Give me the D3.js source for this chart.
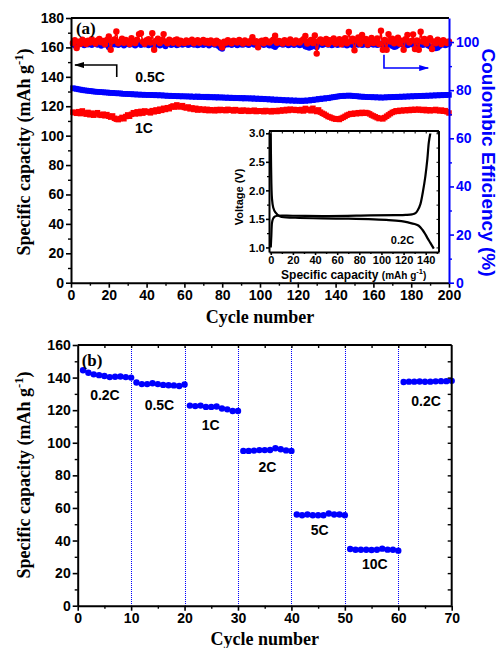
<!DOCTYPE html>
<html>
<head>
<meta charset="utf-8">
<script src="https://cdn.jsdelivr.net/npm/d3@7"></script>
<style>
  html, body { margin: 0; padding: 0; background: #fff; }
  svg { display: block; }
  .tick text { font-family: "Liberation Sans", Arial, sans-serif; font-weight: bold; }
</style>
</head>
<body>
<div id="chart"></div>
<script>
// ---- data: panel (a), cycling at 0.5C and 1C ----
const capHalfC = [
  132.3,132.0,131.8,131.5,131.3,131.0,130.8,130.7,130.5,130.4,130.2,130.0,129.9,129.8,129.7,129.6,129.5,129.3,129.4,129.2,
  129.0,129.1,128.9,128.8,128.7,128.8,128.5,128.4,128.5,128.3,128.2,128.3,128.0,128.1,127.9,128.0,127.8,127.9,127.7,127.8,
  127.6,127.8,127.5,127.7,127.4,127.6,127.3,127.5,127.2,127.3,127.0,127.2,126.9,127.1,126.8,127.0,126.7,126.9,126.6,126.8,
  126.7,126.5,126.8,126.4,126.6,126.3,126.7,126.2,126.5,126.4,126.1,126.5,126.0,126.3,126.2,125.9,126.3,125.8,126.1,126.0,
  125.7,126.0,125.6,125.9,125.5,125.8,125.4,125.7,125.6,125.3,125.7,125.2,125.5,125.4,125.1,125.5,125.0,125.3,124.9,125.2,
  124.8,125.1,124.7,124.9,124.5,124.8,124.3,124.6,124.2,124.5,124.1,124.3,123.9,124.2,123.8,124.1,123.7,124.0,123.6,123.9,
  123.7,123.5,123.9,123.6,124.0,123.8,124.3,124.1,124.6,124.5,125.0,124.8,125.3,125.1,125.6,125.4,125.8,126.0,126.2,126.4,
  126.6,126.8,127.0,126.9,127.2,127.1,127.3,127.2,127.0,126.8,126.9,126.7,126.5,126.6,126.3,126.4,126.2,126.1,126.3,126.0,
  126.2,125.9,126.1,125.8,126.0,125.9,126.2,126.0,126.3,126.1,126.4,126.2,126.5,126.3,126.6,126.4,126.7,126.5,126.8,126.6,
  126.9,126.7,127.0,126.8,127.1,126.9,127.2,127.0,127.3,127.1,127.4,127.2,127.5,127.3,127.6,127.4,127.7,127.5,127.8,127.7
];
const capOneC = [
  116.0,115.6,115.2,116.3,115.0,116.8,115.4,114.6,115.8,114.2,115.3,113.9,114.8,115.6,114.1,113.8,114.6,113.5,114.3,113.2,
  112.6,113.4,111.8,111.2,110.9,111.6,112.4,111.5,113.0,114.1,113.2,114.5,115.6,114.8,116.2,115.0,116.5,115.3,116.8,116.0,
  116.4,115.5,117.0,116.2,117.5,116.6,118.0,117.2,118.6,117.8,119.0,118.3,119.6,120.2,119.4,120.9,120.1,119.5,120.4,119.2,
  118.8,119.5,118.2,118.9,117.8,118.6,117.4,118.2,117.5,118.0,117.2,117.9,117.0,117.6,117.3,116.9,117.7,117.1,117.8,117.2,
  117.6,117.0,117.9,117.3,117.5,116.8,117.7,117.2,117.0,116.6,117.4,116.8,117.2,116.5,117.0,116.7,117.3,116.4,116.9,116.6,
  116.9,116.3,117.1,116.5,116.8,116.2,117.0,116.6,116.4,117.2,116.7,117.5,116.9,117.8,117.1,118.0,117.4,117.8,117.2,117.6,
  117.0,117.8,116.8,118.5,117.4,117.9,116.9,118.6,117.2,116.4,117.5,116.0,115.2,114.6,113.8,113.0,112.6,112.0,111.6,111.2,
  111.5,111.0,111.8,112.4,113.1,113.9,114.4,115.0,114.6,115.3,114.9,115.6,115.1,115.8,115.2,115.7,115.4,114.8,114.0,113.4,
  112.8,112.2,111.6,111.9,111.4,112.3,113.2,114.1,115.0,115.8,116.3,116.9,116.5,117.2,116.8,117.4,117.0,117.6,117.1,117.8,
  117.3,117.9,117.4,118.0,117.5,117.2,117.8,117.0,117.6,116.9,117.5,117.1,117.8,117.2,116.8,117.4,116.6,117.0,116.2,115.4
];
const ceHalfC = [
  99.2,98.6,99.5,98.9,99.8,99.1,98.7,99.4,99.0,99.6,98.8,99.3,99.7,98.9,99.2,98.5,99.6,99.0,99.4,97.8,
  98.7,99.3,99.0,99.6,98.8,99.2,99.5,98.6,99.1,99.4,98.9,99.7,99.0,98.6,99.3,99.5,98.8,99.2,99.0,99.4,
  98.7,99.1,99.5,98.2,99.0,99.3,98.6,99.4,98.9,98.3,99.2,99.6,98.8,99.1,99.4,98.7,99.0,99.5,98.9,99.2,
  99.4,98.8,99.1,99.6,98.9,99.3,98.7,99.0,99.5,98.8,99.2,99.4,98.6,99.1,99.3,98.9,99.0,98.4,97.6,97.2,
  98.6,99.2,99.0,99.5,98.8,99.3,99.1,98.7,99.4,99.0,98.9,99.6,99.1,98.8,99.3,99.5,98.9,99.2,98.7,99.1,
  99.4,98.8,99.2,99.0,98.6,99.3,98.4,97.9,98.8,99.2,99.5,98.9,99.1,99.4,98.7,99.0,99.3,98.8,99.2,99.0,
  98.7,99.1,98.9,98.2,98.0,97.6,97.9,98.3,98.7,97.8,99.0,99.3,98.8,99.1,99.4,98.9,99.2,98.7,99.0,99.3,
  98.8,99.1,99.4,98.9,99.2,98.6,99.0,99.3,98.7,99.1,99.4,98.9,99.2,98.8,99.0,99.5,98.7,99.1,99.3,98.9,
  99.2,98.8,99.0,99.4,98.7,99.1,98.5,99.2,98.9,98.4,97.9,98.2,98.8,99.1,99.3,98.9,99.2,98.7,99.0,99.3,
  98.9,99.2,98.7,99.1,99.4,98.8,99.0,99.3,98.6,98.2,97.8,98.0,97.4,97.6,98.4,98.9,99.1,98.7,99.0,99.2
];
const ceOneC = [
  99.6,100.8,97.5,100.2,99.3,101.0,100.4,99.2,100.6,99.8,101.2,100.1,99.4,100.7,101.3,99.9,100.5,99.1,100.9,102.3,
  96.8,100.4,101.1,104.4,99.5,100.2,101.4,99.7,100.9,100.3,99.2,101.6,100.4,99.6,101.0,103.3,103.7,100.1,99.3,100.8,
  101.2,99.8,103.7,96.8,100.5,101.4,99.6,100.9,103.3,100.2,99.5,101.0,100.3,99.7,100.8,101.1,99.4,100.6,100.0,99.6,
  100.7,99.9,100.4,101.0,99.5,100.2,100.8,99.7,100.3,100.9,99.8,100.5,99.6,100.7,100.1,99.4,100.6,100.0,99.3,97.8,
  100.2,99.7,100.8,100.1,99.5,100.6,100.3,99.8,100.9,100.0,99.4,100.7,100.2,99.6,100.5,102.0,99.9,100.4,97.8,100.1,
  100.6,99.5,100.9,100.2,99.8,100.4,101.0,102.6,99.7,100.5,100.1,99.4,100.8,100.3,99.6,101.1,100.0,99.5,100.7,100.2,
  99.8,100.6,101.2,102.5,99.4,100.3,100.9,99.6,102.7,95.2,100.4,101.1,99.7,100.5,101.3,99.2,100.8,100.1,101.5,99.4,
  100.6,101.2,99.1,100.9,101.6,99.5,104.2,100.3,101.4,96.6,100.7,101.9,99.3,103.0,100.5,101.3,99.0,100.8,101.7,99.6,
  100.4,101.5,99.2,104.7,96.8,100.9,96.8,103.3,100.2,101.4,99.5,100.8,101.8,99.3,100.6,96.8,101.2,103.0,99.8,100.5,
  103.2,97.1,100.7,96.8,104.3,100.2,101.3,99.4,100.9,101.6,97.1,100.3,99.5,101.0,100.4,99.2,100.8,100.1,99.6,100.3
];

// ---- inset: 0.2C voltage profile ----
const chargeCap  = [0, 0.5, 1.1, 2.0, 3.5, 6, 20, 52, 90, 112.6, 122, 127.7, 130.7, 133, 135.2, 137.5, 139.7, 141.5, 142.8, 144.2];
const chargeV    = [1.0, 1.2, 1.43, 1.5, 1.54, 1.555, 1.555, 1.55, 1.56, 1.565, 1.57, 1.58, 1.6, 1.66, 1.76, 1.98, 2.25, 2.55, 2.84, 3.0];
const dischCap   = [0, 0.3, 1.1, 2.2, 4, 8.6, 22, 67, 106.6, 118, 124.7, 130, 133.7, 137, 139.7, 142, 144.2, 147.3];
const dischV     = [3.0, 2.4, 1.85, 1.7, 1.62, 1.54, 1.52, 1.505, 1.48, 1.46, 1.435, 1.41, 1.38, 1.31, 1.23, 1.15, 1.08, 0.98];

// ---- panel (b): rate capability ----
const rateNames = ["0.2C", "0.5C", "1C", "2C", "5C", "10C", "0.2C"];
const rateCaps = [
  [144.5, 143.0, 142.0, 141.5, 141.0, 140.3, 140.5, 140.7, 140.3, 140.0],
  [137.0, 136.0, 136.0, 136.5, 136.0, 135.5, 135.3, 135.2, 134.8, 135.8],
  [122.8, 122.5, 122.8, 122.0, 122.0, 122.3, 121.0, 120.5, 119.5, 119.5],
  [95.0, 95.0, 95.2, 95.5, 95.5, 95.6, 96.6, 96.0, 95.3, 95.0],
  [56.0, 55.5, 56.0, 55.5, 55.5, 55.5, 56.6, 56.0, 56.0, 55.5],
  [34.8, 34.3, 34.3, 34.3, 34.2, 34.3, 35.0, 34.4, 34.3, 33.8],
  [137.3, 137.5, 137.5, 137.6, 137.4, 137.5, 137.7, 137.8, 137.8, 138.0]
];
const rateBoundaries = [10, 20, 30, 40, 50, 60];

const width = 498;
const height = 648;
const RED = "#ff0000";
const BLUE = "#0000ff";
const SANS = "'Liberation Sans', Arial, sans-serif";
const SERIF = "'Liberation Serif', 'Times New Roman', serif";

const svg = d3.select("#chart")
  .append("svg")
  .attr("width", width)
  .attr("height", height)
  .attr("viewBox", [0, 0, width, height]);

const defs = svg.append("defs");
[["arrowBlack", "#000"], ["arrowBlue", BLUE]].forEach(([id, c]) => {
  defs.append("marker")
    .attr("id", id)
    .attr("viewBox", "0 0 10 6")
    .attr("refX", 9).attr("refY", 3)
    .attr("markerWidth", 10).attr("markerHeight", 6)
    .attr("markerUnits", "userSpaceOnUse")
    .attr("orient", "auto")
    .append("path")
    .attr("d", "M0,0 L10,3 L0,6 Z")
    .attr("fill", c);
});

// draw an axis with major labelled ticks and minor unlabelled ticks
function drawAxis(g, maker, scale, major, minor, opts) {
  const o = Object.assign({ size: 5, minorSize: 3, color: "#000", font: 14, fmt: d => d, width: 2, pad: 2 }, opts);
  if (minor) {
    g.append("g").call(maker(scale).tickValues(minor).tickSize(o.minorSize).tickSizeOuter(0).tickFormat(""))
      .call(a => a.select(".domain").remove())
      .call(a => a.selectAll("line").attr("stroke", o.color).attr("stroke-width", 1.4));
  }
  const a = g.append("g").call(maker(scale).tickValues(major).tickSize(o.size).tickSizeOuter(0).tickPadding(o.pad).tickFormat(o.fmt));
  a.select(".domain").attr("stroke", o.color).attr("stroke-width", o.width);
  a.selectAll("line").attr("stroke", o.color).attr("stroke-width", 1.6);
  a.selectAll("text").attr("fill", o.color).style("font-size", o.font + "px");
  return a;
}

function drawSeries(g, xs, ys, x, y, color, shape, s) {
  const pts = xs.map((c, i) => [x(c), y(ys[i])]);
  g.append("path")
    .attr("d", d3.line()(pts))
    .attr("fill", "none")
    .attr("stroke", color)
    .attr("stroke-width", 1.6);
  if (shape === "square") {
    g.selectAll(null).data(pts).join("rect")
      .attr("x", p => p[0] - s / 2).attr("y", p => p[1] - s / 2)
      .attr("width", s).attr("height", s)
      .attr("fill", color);
  } else {
    g.selectAll(null).data(pts).join("circle")
      .attr("cx", p => p[0]).attr("cy", p => p[1])
      .attr("r", s).attr("fill", color);
  }
}

function label(g, txt, px, py, size, anchor, family, color) {
  return g.append("text")
    .attr("x", px).attr("y", py)
    .attr("text-anchor", anchor || "middle")
    .attr("font-family", family || SANS)
    .attr("font-weight", "bold")
    .attr("font-size", size)
    .attr("fill", color || "#000")
    .text(txt);
}

function yTitle(g, px, py, size) {
  const t = g.append("text")
    .attr("transform", `translate(${px},${py}) rotate(-90)`)
    .attr("text-anchor", "middle")
    .attr("font-family", SERIF)
    .attr("font-weight", "bold")
    .attr("font-size", size);
  t.append("tspan").text("Specific capacity (mAh g");
  t.append("tspan").attr("dy", -7).attr("font-size", size * 0.7).text("-1");
  t.append("tspan").attr("dy", 7).text(")");
}

// ================= panel (a) =================
const cycles = d3.range(1, capHalfC.length + 1);
const xa = d3.scaleLinear().domain([0, 200]).range([71, 449]);
const yaL = d3.scaleLinear().domain([0, 180]).range([282.7, 18]);
const yaR = d3.scaleLinear().domain([0, 110]).range([282.7, 18]);

const pa = svg.append("g");

drawSeries(pa, cycles, ceHalfC, xa, yaR, BLUE, "circle", 3);
drawSeries(pa, cycles, ceOneC, xa, yaR, RED, "circle", 3.2);
drawSeries(pa, cycles, capHalfC, xa, yaL, BLUE, "square", 5.5);
drawSeries(pa, cycles, capOneC, xa, yaL, RED, "square", 5.5);

// frame top
pa.append("line").attr("x1", 71).attr("x2", 449).attr("y1", 18).attr("y2", 18)
  .attr("stroke", "#000").attr("stroke-width", 2);

drawAxis(pa.append("g").attr("transform", "translate(0,282.7)"), d3.axisBottom, xa,
  d3.range(0, 201, 20), d3.range(10, 200, 20), {});
drawAxis(pa.append("g").attr("transform", "translate(71,0)"), d3.axisLeft, yaL,
  d3.range(0, 181, 20), d3.range(10, 180, 20), {});
drawAxis(pa.append("g").attr("transform", "translate(449,0)"), d3.axisRight, yaR,
  d3.range(0, 101, 20), d3.range(10, 110, 20), { color: BLUE });

label(pa, "(a)", xa(2.6), yaL(169), 17, "start", SERIF);
label(pa, "0.5C", xa(41.8), yaL(136.3), 14);
label(pa, "1C", xa(38.6), yaL(101.7), 14);

// arrows indicating axes
pa.append("path")
  .attr("d", `M${xa(24.2)},${yaL(139.9)} L${xa(24.2)},${yaL(148)} L${xa(2.1)},${yaL(148)}`)
  .attr("fill", "none").attr("stroke", "#000").attr("stroke-width", 1.6)
  .attr("marker-end", "url(#arrowBlack)");
pa.append("path")
  .attr("d", `M${xa(165.6)},${yaR(94.7)} L${xa(165.6)},${yaR(89.2)} L${xa(189)},${yaR(89.2)}`)
  .attr("fill", "none").attr("stroke", BLUE).attr("stroke-width", 1.6)
  .attr("marker-end", "url(#arrowBlue)");

yTitle(pa, 30, 152, 18);
label(pa, "Cycle number", xa(100), 323, 18, "middle", SERIF);
pa.append("text")
  .attr("transform", "translate(482,162.5) rotate(90)")
  .attr("text-anchor", "middle")
  .attr("font-family", SANS).attr("font-weight", "bold")
  .attr("font-size", 19).attr("fill", BLUE)
  .text("Coulombic Efficiency (%)");

// ---- inset ----
const xi = d3.scaleLinear().domain([-1.6, 152]).range([269, 439]);
const yi = d3.scaleLinear().domain([0.92, 3.04]).range([252, 131]);
const ins = svg.append("g");
ins.append("rect").attr("x", 269).attr("y", 131).attr("width", 170).attr("height", 121)
  .attr("fill", "#fff");

ins.append("path")
  .attr("d", d3.line().curve(d3.curveCatmullRom)(chargeCap.map((c, i) => [xi(c), yi(chargeV[i])])))
  .attr("fill", "none").attr("stroke", "#000").attr("stroke-width", 2.2);
ins.append("path")
  .attr("d", d3.line().curve(d3.curveCatmullRom)(dischCap.map((c, i) => [xi(c), yi(dischV[i])])))
  .attr("fill", "none").attr("stroke", "#000").attr("stroke-width", 2.2);

ins.append("line").attr("x1", 269).attr("x2", 439).attr("y1", 131).attr("y2", 131)
  .attr("stroke", "#000").attr("stroke-width", 2);
ins.append("line").attr("x1", 439).attr("x2", 439).attr("y1", 131).attr("y2", 252)
  .attr("stroke", "#000").attr("stroke-width", 2);
// inward ticks on top and right
ins.append("g").attr("transform", "translate(0,131)")
  .call(d3.axisBottom(xi).tickValues(d3.range(0, 151, 10)).tickSize(2.5).tickFormat(""))
  .call(a => a.select(".domain").remove());
ins.append("g").attr("transform", "translate(439,0)")
  .call(d3.axisLeft(yi).tickValues(d3.range(1.0, 3.01, 0.25)).tickSize(2.5).tickFormat(""))
  .call(a => a.select(".domain").remove());

drawAxis(ins.append("g").attr("transform", "translate(0,252)"), d3.axisBottom, xi,
  d3.range(0, 141, 20), d3.range(10, 151, 20), { size: 3, minorSize: 2, font: 11, pad: 1 });
drawAxis(ins.append("g").attr("transform", "translate(269,0)"), d3.axisLeft, yi,
  [1.0, 1.5, 2.0, 2.5, 3.0], [1.25, 1.75, 2.25, 2.75], { size: 3, minorSize: 2, font: 11.5, pad: 1, fmt: d3.format(".1f") });

label(ins, "0.2C", xi(119), yi(1.06), 11);
const ixl = ins.append("text")
  .attr("x", 353.7).attr("y", 278.5)
  .attr("text-anchor", "middle")
  .attr("font-family", SANS).attr("font-weight", "bold").attr("font-size", 12);
ixl.append("tspan").text("Specific capacity ");
ixl.append("tspan").attr("font-size", 10).text("(mAh g");
ixl.append("tspan").attr("font-size", 7.5).attr("dy", -5).text("-1");
ixl.append("tspan").attr("font-size", 10).attr("dy", 5).text(")");
ins.append("text")
  .attr("transform", "translate(243,197) rotate(-90)")
  .attr("text-anchor", "middle")
  .attr("font-family", SANS).attr("font-weight", "bold").attr("font-size", 11)
  .text("Voltage (V)");

// ================= panel (b) =================
const xb = d3.scaleLinear().domain([0, 70]).range([77.7, 451.7]);
const yb = d3.scaleLinear().domain([0, 160]).range([605.7, 345]);
const pb = svg.append("g");

pb.selectAll(null).data(rateBoundaries).join("line")
  .attr("x1", d => Math.round(xb(d)) + 0.5).attr("x2", d => Math.round(xb(d)) + 0.5)
  .attr("y1", yb(160)).attr("y2", yb(0))
  .attr("stroke", BLUE).attr("stroke-width", 1)
  .attr("stroke-dasharray", "1,1");

rateCaps.forEach((caps, k) => {
  const cyc = caps.map((_, i) => k * 10 + i + 1);
  drawSeries(pb, cyc, caps, xb, yb, BLUE, "circle", 3.2);
});

pb.append("line").attr("x1", 77.7).attr("x2", 451.7).attr("y1", 345).attr("y2", 345)
  .attr("stroke", "#000").attr("stroke-width", 2);
pb.append("line").attr("x1", 451.7).attr("x2", 451.7).attr("y1", 345).attr("y2", 605.7)
  .attr("stroke", "#000").attr("stroke-width", 2);
pb.append("g").attr("transform", "translate(0,345)")
  .call(d3.axisBottom(xb).tickValues(d3.range(5, 70, 5)).tickSize(3).tickFormat(""))
  .call(a => a.select(".domain").remove())
  .call(a => a.selectAll("line").attr("stroke-width", 1.4));
pb.append("g").attr("transform", "translate(451.7,0)")
  .call(d3.axisLeft(yb).tickValues(d3.range(10, 160, 10)).tickSize(4).tickFormat(""))
  .call(a => a.select(".domain").remove())
  .call(a => a.selectAll("line").attr("stroke-width", 1.4));

drawAxis(pb.append("g").attr("transform", "translate(0,605.7)"), d3.axisBottom, xb,
  d3.range(0, 71, 10), d3.range(5, 70, 10), {});
drawAxis(pb.append("g").attr("transform", "translate(77.7,0)"), d3.axisLeft, yb,
  d3.range(0, 161, 20), d3.range(10, 160, 20), {});

label(pb, "(b)", xb(0.75), yb(147), 17, "start", SERIF);
const rateLabelPos = [[5.1, 126.2], [15.3, 120.1], [24.9, 107.8], [35.5, 82.2], [45.3, 43.4], [55.6, 22.3], [65.2, 122.7]];
rateNames.forEach((n, i) => label(pb, n, xb(rateLabelPos[i][0]), yb(rateLabelPos[i][1]), 14));

yTitle(pb, 30, 475, 18);
label(pb, "Cycle number", xb(35), 645, 18, "middle", SERIF);
</script>
</body>
</html>
